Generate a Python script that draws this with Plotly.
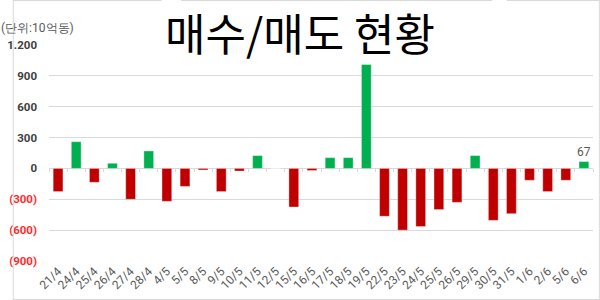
import plotly.graph_objects as go

dates = ["21/4", "24/4", "25/4", "26/4", "27/4", "28/4", "4/5", "5/5", "8/5", "9/5",
         "10/5", "11/5", "12/5", "15/5", "16/5", "17/5", "18/5", "19/5", "22/5", "23/5",
         "24/5", "25/5", "26/5", "29/5", "30/5", "31/5", "1/6", "2/6", "5/6", "6/6"]
values = [-225, 260, -135, 50, -300, 170, -320, -175, -15, -225,
          -25, 125, 0, -375, -20, 105, 105, 1010, -465, -600,
          -565, -400, -330, 125, -505, -440, -115, -225, -115, 67]
y_ticks = [-900, -600, -300, 0, 300, 600, 900, 1200]
unit_label = "(단위:10억동)"
title_text = "매수/매도 현황"

W, H = 600, 300
ML, MR, MT, MB = 37, 7, 45, 39
PW, PH = W - ML - MR, H - MT - MB


def px_x(px):
    return (px - ML) / PW


def px_y(py):
    return (H - MB - py) / PH


def fmt(v):
    s = f"{abs(v):,}".replace(",", ".")
    if v < 0:
        return f"<span style='color:#FF2B2B'>({s})</span>"
    return s


colors = ["#00B050" if v >= 0 else "#C00000" for v in values]
labels = [""] * (len(values) - 1) + [str(values[-1])]

fig = go.Figure()
fig.add_trace(go.Bar(
    x=dates, y=values, marker=dict(color=colors, line=dict(width=0.6, color="rgba(255,255,255,0.6)")),
    text=labels, textposition="outside", cliponaxis=False, constraintext="none",
    textfont=dict(family="Roboto", size=12, color="#595959"),
    hoverinfo="skip",
))
# invisible copy to carry the tick marks on the zero line
fig.add_trace(go.Bar(x=dates, y=values, xaxis="x2", opacity=0, hoverinfo="skip", showlegend=False))

fig.update_layout(
    width=W, height=H,
    margin=dict(l=ML, r=MR, t=MT, b=MB),
    paper_bgcolor="white", plot_bgcolor="white",
    showlegend=False, bargap=0.46,
    xaxis=dict(
        type="category", categoryarray=dates, range=[-0.5, len(dates) - 0.5],
        tickangle=-45, showgrid=False, showline=False, ticks="",
        tickfont=dict(family="Roboto", size=12, color="#595959"),
    ),
    xaxis2=dict(
        type="category", categoryarray=dates, range=[-0.5, len(dates) - 0.5],
        overlaying="x", anchor="free", position=(0 - y_ticks[0]) / (y_ticks[-1] - y_ticks[0]),
        side="bottom", showticklabels=False, showgrid=False, showline=False,
        ticks="outside", tickson="boundaries", ticklen=3, tickcolor="#D9D9D9", tickwidth=1,
    ),
    yaxis=dict(
        range=[y_ticks[0], y_ticks[-1]], tickvals=y_ticks, ticktext=[fmt(v) for v in y_ticks],
        showgrid=True, gridcolor="#D9D9D9", gridwidth=1, zeroline=False, showline=False,
        ticklabelstandoff=11,
        tickfont=dict(family="Roboto", size=11.5, color="#404040", weight="bold"),
    ),
    shapes=[
        dict(type="line", xref="paper", yref="paper", x0=px_x(0.5), x1=px_x(0.5), y0=px_y(0.5), y1=px_y(299.5),
             line=dict(color="#D9D9D9", width=1)),
        dict(type="line", xref="paper", yref="paper", x0=px_x(599.5), x1=px_x(599.5), y0=px_y(0.5), y1=px_y(299.5),
             line=dict(color="#D9D9D9", width=1)),
        dict(type="line", xref="paper", yref="paper", x0=px_x(0), x1=px_x(600), y0=px_y(299.5), y1=px_y(299.5),
             line=dict(color="#D9D9D9", width=1)),
        dict(type="line", xref="paper", yref="paper", x0=px_x(0), x1=px_x(152), y0=px_y(0.5), y1=px_y(0.5),
             line=dict(color="#D9D9D9", width=1)),
        dict(type="line", xref="paper", yref="paper", x0=px_x(172), x1=px_x(490), y0=px_y(0.5), y1=px_y(0.5),
             line=dict(color="#D9D9D9", width=1)),
        dict(type="line", xref="paper", yref="paper", x0=px_x(505), x1=px_x(600), y0=px_y(0.5), y1=px_y(0.5),
             line=dict(color="#D9D9D9", width=1)),
        dict(type="rect", xref="paper", yref="paper", layer="above", x0=px_x(152), x1=px_x(494),
             y0=px_y(56), y1=px_y(4), fillcolor="white", line=dict(width=0)),
    ],
    annotations=[
        dict(text=title_text, xref="paper", yref="paper", x=px_x(294), y=px_y(32),
             xanchor="center", yanchor="middle", showarrow=False,
             font=dict(family="Noto Sans CJK KR", size=44, color="#000000")),
        dict(text=unit_label, xref="paper", yref="paper", x=px_x(-14), y=px_y(28),
             xanchor="left", yanchor="middle", showarrow=False,
             font=dict(family="Roboto", size=12, color="#595959")),
    ],
)

fig.write_html("out.html")
